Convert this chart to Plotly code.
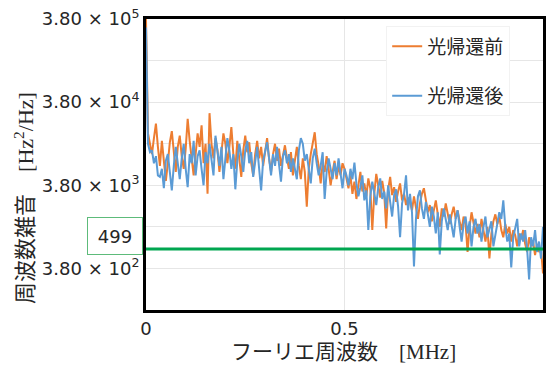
import numpy as np
import plotly.graph_objects as go

# ---------------- data ----------------
freq_mhz = [round(i * 0.005, 3) for i in range(201)]

before_fb = [  # 光帰還前 (orange)
    380000, 16000, 12000,
    9000, 14000, 21000, 11000, 6500, 13000, 8000, 4300, 7000, 12500, 17000, 9500, 5500, 11000,
    15000, 8500, 6000, 10500, 24000, 13000, 7500, 5000, 9000, 16000, 11000, 20000, 7000, 12000,
    3000, 28000, 12000, 8000, 14000, 10000, 5500, 9500, 16000, 12000, 7000, 11000, 19000, 9000,
    6000, 13000, 8500, 4800, 10000, 15000, 9500, 12500, 7000, 5000, 9000, 13000, 8000, 11000,
    6500, 10000, 14000, 8000, 5500, 9000, 12000, 7500, 10500, 6500, 9000, 11500,
    8000, 6000, 9500, 5000, 7500, 11000, 6500, 4500, 8000, 5500, 2100, 6000, 9000, 12000, 16500,
    9000, 6500, 4000, 7000, 5500, 8500, 6000, 3800, 5500, 7500, 4500, 6500, 5000, 7000, 6000,
    4500, 3500, 5000, 3000, 4200, 2600, 3800, 5500, 3200, 4000, 2800, 4600, 3500, 1100, 3000,
    5200, 3800, 2700, 4300, 3100, 1150, 3400, 4800, 2900, 3600, 2400, 3200, 4000, 2500, 3000,
    2200, 2700,
    2400, 1900, 2800, 2000, 1500, 2300, 3000, 3500, 2600, 1800, 2200, 1400, 1900, 2500, 1700,
    1200, 2000, 1600, 2300, 1800, 1300, 1700, 2100, 1500, 1900, 1400, 1100, 1600, 1300, 600,
    1200, 1800, 1400, 1000,
    1300, 900, 1500, 1100, 800, 1200, 500, 1000, 1400, 1700, 1300, 1600, 1100, 900, 1300, 1000,
    1200, 800, 1100, 950, 700, 1000, 850, 1100, 750, 600, 900, 700, 800, 550, 750, 600, 650, 330,
]

after_fb = [  # 光帰還後 (blue)
    300000, 12000, 9500,
    10000, 7000, 8500, 5000, 4800, 6000, 3500, 7500, 9000, 5500, 3300, 6500, 11000, 7000,
    4500, 8000, 12000, 6000, 3600, 9000, 7000, 13000, 5000, 8500, 10000, 6000, 3800, 9500,
    7000, 12000, 8000, 5000, 15000, 9000, 6500, 11000, 4500, 8000, 14000, 10000, 6000, 9000,
    3400, 7500, 12000, 8500, 5500, 10000, 13000, 7000, 9500, 4800, 8000, 11000, 6000, 3300,
    7500, 10000, 12500, 8000, 5000, 9000, 6500, 11000, 7000, 4200, 8500, 10000,
    7000, 9000, 5500, 8000, 6000, 4500, 10000, 14000, 12000, 7500, 9000, 6000, 4000, 8000, 10500,
    7000, 5000, 6500, 9500, 2600, 5500, 8000, 6000, 4500, 7000, 5000, 8000, 5500, 3500, 6000,
    5000, 3800, 6000, 4500, 7100, 4000, 2800, 3600, 5000, 2500, 3300, 1100, 2800, 4200, 3000,
    2200, 3600, 4600, 2600, 3200, 2000, 3800, 2400, 1600, 2900, 3400, 2100, 900, 2300, 3000,
    5000, 1900,
    3000, 1800, 400, 1500, 2800, 3300, 2000, 1500, 2400, 1700, 1200, 2100, 1600, 1000, 1800,
    560, 1400, 2000, 1500, 1100, 1700, 1300, 900, 1500, 1900, 1200, 800, 1300, 1600, 1000,
    1400, 700, 1200, 1500,
    1000, 1300, 800, 1200, 1600, 900, 1100, 1400, 700, 1000, 1300, 1800, 1500, 2500, 1200, 800,
    1000, 390, 900, 1200, 1500, 700, 1000, 800, 1100, 650, 280, 900, 700, 1100, 600, 800, 500, 1200,
]

threshold_level = 650      # position of green reference line
threshold_label = "499"

y_tick_vals = [380, 3800, 38000, 380000]
y_tick_text = ["3.80 × 10<sup>2</sup>", "3.80 × 10<sup>3</sup>",
               "3.80 × 10<sup>4</sup>", "3.80 × 10<sup>5</sup>"]
y_half_vals = [120.2, 1202, 12017, 120167]
x_tick_vals = [0, 0.5, 1]
x_tick_text = ["0", "0.5", "1"]

# ---------------- figure ----------------
ORANGE = "#ED7D31"
BLUE = "#5B9BD5"
GREEN = "#00A650"

fig = go.Figure()
fig.add_trace(go.Scatter(x=freq_mhz, y=before_fb, mode="lines", name="光帰還前",
                         line=dict(color=ORANGE, width=2), legendgroup="a"))
fig.add_trace(go.Scatter(x=freq_mhz, y=after_fb, mode="lines", name="光帰還後",
                         line=dict(color=BLUE, width=2), legendgroup="b"))

fig.add_hline(y=threshold_level, line=dict(color=GREEN, width=3))

tick_font = dict(family="DejaVu Sans, sans-serif", size=18, color="#262626")

tv = sorted(y_tick_vals + y_half_vals)
tt = []
for v in tv:
    tt.append(y_tick_text[y_tick_vals.index(v)] if v in y_tick_vals else "")

fig.update_yaxes(type="log", range=[np.log10(120.2), np.log10(380000)],
                 tickvals=tv, ticktext=tt, tickfont=tick_font,
                 showgrid=True, gridcolor="#E6E6E6", gridwidth=1,
                 showline=True, mirror=True, linecolor="black", linewidth=3,
                 ticks="", zeroline=False, automargin=False)
fig.update_xaxes(range=[0, 1], tickvals=x_tick_vals, ticktext=x_tick_text, tickfont=tick_font,
                 showgrid=True, gridcolor="#E6E6E6", gridwidth=1,
                 showline=True, mirror=True, linecolor="black", linewidth=3,
                 ticks="", zeroline=False, automargin=False)

fig.add_annotation(xref="paper", yref="paper", x=0.497, y=-0.138,
                   text="フーリエ周波数　<span style='font-family:Liberation Serif'>[MHz]</span>",
                   showarrow=False, xanchor="center", yanchor="middle",
                   font=dict(family="Noto Sans CJK JP", size=21, color="#262626"))

fig.add_annotation(xref="paper", yref="paper", x=-0.31, y=0.385,
                   text="周波数雑音　<span style='font-family:Liberation Serif'>[Hz<sup>2</sup>/Hz]</span>",
                   textangle=-90, showarrow=False, xanchor="center", yanchor="middle",
                   font=dict(family="Noto Sans CJK JP", size=22, color="#262626"))

fig.add_annotation(xref="paper", yref="paper", x=-0.078, y=0.254,
                   text=threshold_label, showarrow=False, xanchor="center", yanchor="middle",
                   font=dict(family="DejaVu Sans, sans-serif", size=18, color="#262626"),
                   bordercolor="#5DBB7A", borderwidth=1, bgcolor="white",
                   width=52, height=34)

fig.update_layout(
    width=547, height=367,
    margin=dict(l=146, r=4, t=19, b=57, autoexpand=False),
    paper_bgcolor="white", plot_bgcolor="white",
    showlegend=True,
    legend=dict(x=0.605, y=0.975, xanchor="left", yanchor="top",
                font=dict(family="Noto Sans CJK JP", size=19, color="#262626"),
                bgcolor="white", bordercolor="#F2F2F2", borderwidth=1,
                traceorder="grouped", tracegroupgap=22),
)

fig.write_html("out.html", config={"displayModeBar": False},
               post_script="document.body.style.margin='0';document.body.style.overflow='hidden';")
